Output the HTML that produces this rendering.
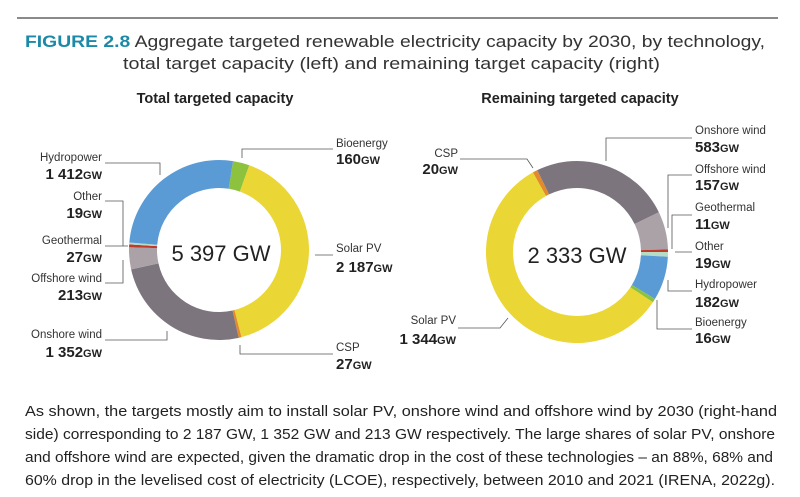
<!DOCTYPE html>
<html><head><meta charset="utf-8"><style>
html,body{margin:0;padding:0;background:#fff;}
svg{display:block;font-family:"Liberation Sans",sans-serif;}
.l{font-size:11.5px;fill:#333;}
.v{font-size:15px;font-weight:bold;fill:#222;}
.u{font-size:11px;font-weight:bold;}
.ld{stroke:#555;stroke-width:0.8;fill:none;}
</style></head><body>
<svg width="800" height="497" viewBox="0 0 800 497">
<line x1="17" y1="18" x2="778" y2="18" stroke="#444" stroke-width="1.2"/>
<text x="25" y="47" font-size="16.5" fill="#333" textLength="740" lengthAdjust="spacingAndGlyphs"><tspan font-weight="bold" fill="#1b8aa8">FIGURE 2.8</tspan> Aggregate targeted renewable electricity capacity by 2030, by technology,</text>
<text x="123" y="69" font-size="16.5" fill="#333" textLength="537" lengthAdjust="spacingAndGlyphs">total target capacity (left) and remaining target capacity (right)</text>
<text x="215" y="103" font-size="14.5" font-weight="bold" fill="#222" text-anchor="middle">Total targeted capacity</text>
<text x="580" y="103" font-size="14.5" font-weight="bold" fill="#222" text-anchor="middle">Remaining targeted capacity</text>

<g id="d1" transform="translate(219,250)"></g>
<g id="d2" transform="translate(577,252)"></g>

<text x="221" y="261" font-size="22" fill="#222" text-anchor="middle">5 397 GW</text>
<text x="577" y="263" font-size="22" fill="#222" text-anchor="middle">2 333 GW</text>

<!-- left labels -->
<g text-anchor="end">
<text class="l" x="102" y="161">Hydropower</text><text class="v" x="102" y="179">1 412<tspan class="u">GW</tspan></text>
<text class="l" x="102" y="200">Other</text><text class="v" x="102" y="218">19<tspan class="u">GW</tspan></text>
<text class="l" x="102" y="244">Geothermal</text><text class="v" x="102" y="262">27<tspan class="u">GW</tspan></text>
<text class="l" x="102" y="282">Offshore wind</text><text class="v" x="102" y="300">213<tspan class="u">GW</tspan></text>
<text class="l" x="102" y="338">Onshore wind</text><text class="v" x="102" y="357">1 352<tspan class="u">GW</tspan></text>
</g>
<text class="l" x="336" y="147">Bioenergy</text><text class="v" x="336" y="164">160<tspan class="u">GW</tspan></text>
<text class="l" x="336" y="252">Solar PV</text><text class="v" x="336" y="272">2 187<tspan class="u">GW</tspan></text>
<text class="l" x="336" y="351">CSP</text><text class="v" x="336" y="369">27<tspan class="u">GW</tspan></text>
<path class="ld" d="M105 163H160V175M105 201H123V246H128M105 246H127M105 283H123V260M105 340H167V331M333 149H242V158M315 255H333M240 345V354H333"/>

<!-- right labels -->
<g text-anchor="end">
<text class="l" x="458" y="157">CSP</text><text class="v" x="458" y="174">20<tspan class="u">GW</tspan></text>
<text class="l" x="456" y="324">Solar PV</text><text class="v" x="456" y="344">1 344<tspan class="u">GW</tspan></text>
</g>
<text class="l" x="695" y="134">Onshore wind</text><text class="v" x="695" y="152">583<tspan class="u">GW</tspan></text>
<text class="l" x="695" y="173">Offshore wind</text><text class="v" x="695" y="190">157<tspan class="u">GW</tspan></text>
<text class="l" x="695" y="211">Geothermal</text><text class="v" x="695" y="229">11<tspan class="u">GW</tspan></text>
<text class="l" x="695" y="250">Other</text><text class="v" x="695" y="268">19<tspan class="u">GW</tspan></text>
<text class="l" x="695" y="288">Hydropower</text><text class="v" x="695" y="307">182<tspan class="u">GW</tspan></text>
<text class="l" x="695" y="326">Bioenergy</text><text class="v" x="695" y="343">16<tspan class="u">GW</tspan></text>
<path class="ld" d="M460 159H527L533 168M692 138H606V161M692 175H668V228M692 215H672V249M675 252H692M692 291H668V280M692 329H657V300M458 328H500L508 318"/>

<g font-size="14.3" fill="#222">
<text x="25" y="416" textLength="752" lengthAdjust="spacingAndGlyphs">As shown, the targets mostly aim to install solar PV, onshore wind and offshore wind by 2030 (right-hand</text>
<text x="25" y="439" textLength="750" lengthAdjust="spacingAndGlyphs">side) corresponding to 2 187 GW, 1 352 GW and 213 GW respectively. The large shares of solar PV, onshore</text>
<text x="25" y="462" textLength="748" lengthAdjust="spacingAndGlyphs">and offshore wind are expected, given the dramatic drop in the cost of these technologies – an 88%, 68% and</text>
<text x="25" y="485" textLength="750" lengthAdjust="spacingAndGlyphs">60% drop in the levelised cost of electricity (LCOE), respectively, between 2010 and 2021 (IRENA, 2022g).</text>
</g>
</svg>
<script>
function donut(id,start,data,ro,ri){
  var g=document.getElementById(id),tot=data.reduce((s,d)=>s+d[0],0),a=start*Math.PI/180,h='';
  data.forEach(function(d){
    var b=a+d[0]/tot*2*Math.PI,l=(b-a)>Math.PI?1:0;
    var p=(r,t)=>(r*Math.sin(t)).toFixed(2)+' '+(-r*Math.cos(t)).toFixed(2);
    h+='<path fill="'+d[1]+'" d="M'+p(ro,a)+'A'+ro+' '+ro+' 0 '+l+' 1 '+p(ro,b)+'L'+p(ri,b)+'A'+ri+' '+ri+' 0 '+l+' 0 '+p(ri,a)+'Z"/>';
    a=b;
  });
  g.innerHTML=h;
}
donut('d1',9,[[160,'#8dc23f'],[2187,'#ead635'],[27,'#e38b2c'],[1352,'#7d757d'],[213,'#aba2a8'],[27,'#c0392b'],[19,'#b6dcc6'],[1412,'#5b9bd5']],90,62);
donut('d2',-29,[[20,'#e38b2c'],[583,'#7d757d'],[157,'#aba2a8'],[11,'#c0392b'],[19,'#b6dcc6'],[182,'#5b9bd5'],[16,'#8dc23f'],[1344,'#ead635']],91,64);
</script>
</body></html>
